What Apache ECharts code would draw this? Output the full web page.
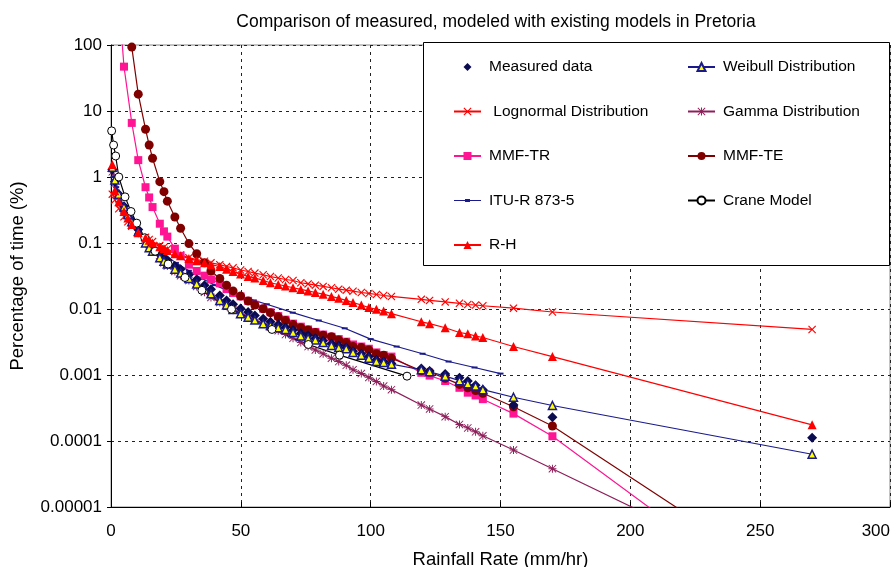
<!DOCTYPE html>
<html>
<head>
<meta charset="utf-8">
<script src="https://cdn.jsdelivr.net/npm/echarts@6/dist/echarts.min.js"></script>
<style>
html, body { margin: 0; padding: 0; background: #fff; }
#chart { width: 896px; height: 567px; }
</style>
</head>
<body>
<div id="chart"></div>
<script>
// rainfall rates (mm/hr) shared by the measured data and most of the models
var rate = [0.5, 1.5, 3, 5, 6.5, 8, 10.5, 13.3, 14.7, 16, 18.8, 20.4, 21.7, 24.6, 26.8, 30, 33, 36, 38.5, 41.9, 44.5,
    47, 49.9, 52.8, 55.4, 58.6, 61.4, 64.4, 67.2, 70.1, 73.1, 75.9, 78.7, 81.7, 84.9, 87.7, 90.6, 93.2, 96.4, 99.3,
    102.2, 105, 108, 119.5, 122.7, 128.7, 134.2, 137.4, 140.4, 143.2, 155, 170, 270];

var measured = [1.3, 0.85, 0.55, 0.36, 0.28, 0.22, 0.16, 0.11, 0.095, 0.085, 0.068, 0.06, 0.055, 0.045, 0.04, 0.033,
    0.028, 0.023, 0.02, 0.016, 0.0135, 0.0118, 0.0102, 0.009, 0.008, 0.0071, 0.0064, 0.0058, 0.0053, 0.0048, 0.0043,
    0.004, 0.0036, 0.0033, 0.003, 0.0028, 0.0026, 0.0023, 0.0021, 0.0019, 0.0017, 0.0016, 0.0015, 0.00126, 0.00115,
    0.00104, 0.00091, 0.00081, 0.0007, 0.0006, 0.00035, 0.00023, 0.000112];

var weibull = [1.4, 0.9, 0.55, 0.35, 0.27, 0.21, 0.15, 0.1, 0.085, 0.075, 0.06, 0.053, 0.048, 0.04, 0.035, 0.029,
    0.024, 0.02, 0.017, 0.0135, 0.0115, 0.0098, 0.0085, 0.0075, 0.0068, 0.006, 0.0056, 0.0052, 0.0049, 0.0044, 0.0039,
    0.0036, 0.0034, 0.0031, 0.0028, 0.0026, 0.0025, 0.0022, 0.002, 0.0018, 0.0016, 0.00155, 0.00146, 0.0012, 0.00112,
    0.00096, 0.00082, 0.00074, 0.00068, 0.0006, 0.00046, 0.000345, 0.000063];

var lognormal = [0.55, 0.45, 0.33, 0.25, 0.21, 0.18, 0.145, 0.122, 0.113, 0.105, 0.092, 0.086, 0.081, 0.072, 0.066,
    0.06, 0.056, 0.053, 0.05, 0.047, 0.044, 0.042, 0.039, 0.037, 0.035, 0.033, 0.031, 0.0295, 0.028, 0.027, 0.025,
    0.024, 0.023, 0.022, 0.021, 0.02, 0.0193, 0.0186, 0.0178, 0.0172, 0.0166, 0.016, 0.0155, 0.014, 0.0135, 0.0128,
    0.0122, 0.0117, 0.0115, 0.0112, 0.0103, 0.009, 0.0049];

var gamma = [1.2, 0.8, 0.5, 0.33, 0.26, 0.2, 0.14, 0.1, 0.085, 0.075, 0.058, 0.05, 0.045, 0.037, 0.032, 0.027, 0.022,
    0.018, 0.015, 0.0125, 0.011, 0.0096, 0.0087, 0.0078, 0.007, 0.0061, 0.0053, 0.0047, 0.0041, 0.0036, 0.0031,
    0.0027, 0.0024, 0.0021, 0.0018, 0.0016, 0.0014, 0.0012, 0.00105, 0.00092, 0.0008, 0.00068, 0.0006, 0.00035,
    0.000306, 0.000234, 0.000178, 0.000158, 0.000138, 0.00012, 0.000073, 0.000038, 4.8e-7];

var mmfTR = [null, null, 500, 47, null, 6.6, 1.8, 0.7, 0.49, 0.35, 0.196, 0.15, 0.125, 0.082, 0.064, 0.047, 0.0376,
    0.032, 0.028, 0.0245, 0.02, 0.0175, 0.0155, 0.0133, 0.0116, 0.0101, 0.0089, 0.0078, 0.0069, 0.006, 0.0054,
    0.0049, 0.0045, 0.0041, 0.0038, 0.0035, 0.0032, 0.0029, 0.0027, 0.0025, 0.0022, 0.002, 0.0019, 0.00108, 0.00098,
    0.00081, 0.00064, 0.00054, 0.00049, 0.00043, 0.00026, 0.000118, 1.5e-7];

var mmfTE = [null, null, null, null, 400, 93, 18, 5.3, 3.05, 1.92, 0.85, 0.6, 0.43, 0.248, 0.167, 0.098, 0.069, 0.05,
    0.0376, 0.029, 0.023, 0.0188, 0.0157, 0.0132, 0.0115, 0.0101, 0.0088, 0.0076, 0.0067, 0.0058, 0.0052, 0.0048,
    0.0044, 0.004, 0.0038, 0.0034, 0.0031, 0.0027, 0.0026, 0.0024, 0.0021, 0.002, 0.0018, 0.00116, 0.00111, 0.00089,
    0.00072, 0.00064, 0.00058, 0.00053, 0.00033, 0.000169, 4.4e-7];

var rh = [1.55, 0.62, 0.42, 0.3, 0.24, 0.19, 0.143, 0.12, 0.11, 0.1, 0.088, 0.082, 0.077, 0.069, 0.064, 0.058, 0.054,
    0.05, 0.047, 0.044, 0.04, 0.037, 0.034, 0.031, 0.0296, 0.027, 0.025, 0.0235, 0.0223, 0.021, 0.0198, 0.0188,
    0.0178, 0.0168, 0.0155, 0.0145, 0.0135, 0.0125, 0.0115, 0.0105, 0.0099, 0.0093, 0.0085, 0.0064, 0.006, 0.0052,
    0.0044, 0.0042, 0.0039, 0.0037, 0.0027, 0.0019, 0.000176];

var ituRate = [0.5, 1, 2, 3, 5, 7, 10, 15, 20, 25, 30, 35, 40, 45, 50, 55, 60, 70, 80, 90, 100, 110, 120, 130, 140, 150];
var ituPct = [1.3, 1.0, 0.7, 0.5, 0.33, 0.24, 0.16, 0.1, 0.07, 0.05, 0.038, 0.029, 0.023, 0.019, 0.0155, 0.0135,
    0.0118, 0.0088, 0.0067, 0.0051, 0.0035, 0.0027, 0.0021, 0.0016, 0.0013, 0.00105];

var craneRate = [0.25, 1, 1.8, 3, 5.4, 7.7, 9.9, 13, 17, 22, 28.5, 35, 46.4, 62, 76, 88, 114];
var cranePct = [5, 3.05, 2.08, 1.0, 0.5, 0.3, 0.2, 0.12, 0.075, 0.048, 0.03, 0.0192, 0.0099, 0.0049, 0.0029, 0.002, 0.00096];

var xTicks = [0, 50, 100, 150, 200, 250, 300];
var yTickLabels = ['0.00001', '0.0001', '0.001', '0.01', '0.1', '1', '10', '100'];

function pairs(xs, ys) {
    var out = [];
    for (var i = 0; i < xs.length; i++) {
        if (ys[i] !== null) out.push([xs[i], ys[i]]);
    }
    return out;
}

var FONT = 'Liberation Sans';
var crossPath = 'path://M0,1L1,0L5,4L9,0L10,1L6,5L10,9L9,10L5,6L1,10L0,9L4,5Z';
var starPath = 'path://M4.4,0h1.2v10h-1.2zM0,4.4h10v1.2h-10zM0.8,0L10,9.2L9.2,10L0,0.8zM9.2,0L10,0.8L0.8,10L0,9.2z';
// legend icon for the ITU curve: thin line with a small dash on it
var ituIcon = 'path://M0,4.4H27V5.6H0ZM11,3.6H16V6.4H11Z';

function lineSeries(name, data, color, symbol, size, itemStyle) {
    return {
        name: name,
        type: 'line',
        data: data,
        symbol: symbol,
        symbolSize: size,
        showSymbol: true,
        lineStyle: { color: color, width: 1.2 },
        itemStyle: itemStyle || { color: color },
        emphasis: { disabled: true }
    };
}

var legendText = { fontFamily: FONT, fontSize: 15.5, color: '#000', lineHeight: 16, padding: [0, 0, 0, 3] };

var dom = document.getElementById('chart');
var myChart = echarts.init(dom);

var option = {
    backgroundColor: '#fff',
    animation: false,
    textStyle: { fontFamily: FONT },
    title: {
        text: 'Comparison of measured, modeled with existing models in Pretoria',
        left: 491,
        top: 8,
        textAlign: 'center',
        textStyle: { fontFamily: FONT, fontSize: 17.5, fontWeight: 'normal', color: '#000' }
    },
    grid: {
        left: 111, right: 6, top: 45, bottom: 60,
        outerBoundsMode: 'none',
        containLabel: false,
        show: true, borderColor: '#888', borderWidth: 1, backgroundColor: 'transparent'
    },
    graphic: [{
        type: 'rect',
        z: 3,
        shape: { x: 423.5, y: 42.5, width: 466, height: 223 },
        style: { fill: '#fff', stroke: '#000', lineWidth: 1 }
    }],
    legend: [{
        z: 6,
        orient: 'vertical',
        left: 448, top: 54,
        itemWidth: 27, itemHeight: 10, itemGap: 28.5,
        textStyle: legendText,
        data: ['Measured data', ' Lognormal Distribution', 'MMF-TR',
            { name: 'ITU-R 873-5', icon: ituIcon }, 'R-H']
    }, {
        z: 6,
        orient: 'vertical',
        left: 682, top: 54,
        itemWidth: 27, itemHeight: 10, itemGap: 28.5,
        textStyle: legendText,
        data: ['Weibull Distribution', 'Gamma Distribution', 'MMF-TE', 'Crane Model']
    }],
    xAxis: {
        type: 'value',
        min: xTicks[0], max: xTicks[xTicks.length - 1], interval: 50,
        name: 'Rainfall Rate (mm/hr)',
        nameLocation: 'middle',
        nameGap: 43,
        nameTextStyle: { fontFamily: FONT, fontSize: 18.5, color: '#000' },
        axisLine: { lineStyle: { color: '#000', width: 1 } },
        axisTick: { inside: true, length: 5, lineStyle: { color: '#000' } },
        axisLabel: { margin: 16, fontFamily: FONT, fontSize: 17, color: '#000', alignMaxLabel: 'right' },
        splitLine: { show: true, lineStyle: { color: '#222', type: [3, 4], width: 1 } }
    },
    yAxis: {
        type: 'log',
        logBase: 10,
        min: 0.00001, max: 100,
        name: 'Percentage of time (%)',
        nameLocation: 'middle',
        nameGap: 84,
        nameRotate: 90,
        nameTextStyle: { fontFamily: FONT, fontSize: 18.5, color: '#000' },
        axisLine: { show: true, lineStyle: { color: '#000', width: 1 } },
        axisTick: { show: true, length: 4, lineStyle: { color: '#000' } },
        axisLabel: {
            margin: 9, fontFamily: FONT, fontSize: 17, color: '#000',
            formatter: function (v) {
                var k = Math.round(Math.log(v) / Math.LN10) + 5;
                return yTickLabels[k] !== undefined ? yTickLabels[k] : '';
            }
        },
        splitLine: { show: true, lineStyle: { color: '#222', type: [3, 4], width: 1 } }
    },
    series: [
        lineSeries(' Lognormal Distribution', pairs(rate, lognormal), '#ff0000', crossPath, 8),
        lineSeries('Gamma Distribution', pairs(rate, gamma), '#8e1f5a', starPath, 8),
        lineSeries('ITU-R 873-5', pairs(ituRate, ituPct), '#1a1a8c', 'rect', [6, 2]),
        lineSeries('MMF-TR', pairs(rate, mmfTR), '#ff1493', 'rect', 8),
        lineSeries('MMF-TE', pairs(rate, mmfTE), '#800000', 'circle', 9),
        {
            name: 'Measured data',
            type: 'line',
            data: pairs(rate, measured),
            symbol: 'diamond',
            symbolSize: 10,
            showSymbol: true,
            lineStyle: { width: 0, opacity: 0 },
            itemStyle: { color: '#0b0b4f' },
            emphasis: { disabled: true }
        },
        lineSeries('Weibull Distribution', pairs(rate, weibull), '#1a1a8c', 'triangle', 8,
            { color: '#ffff00', borderColor: '#1a1a8c', borderWidth: 1.5 }),
        lineSeries('Crane Model', pairs(craneRate, cranePct), '#000000', 'circle', 8,
            { color: '#fff', borderColor: '#000', borderWidth: 1 }),
        lineSeries('R-H', pairs(rate, rh), '#ff0000', 'triangle', 9)
    ]
};

if (option && typeof option === 'object') {
    myChart.setOption(option, true);
}
</script>
</body>
</html>
